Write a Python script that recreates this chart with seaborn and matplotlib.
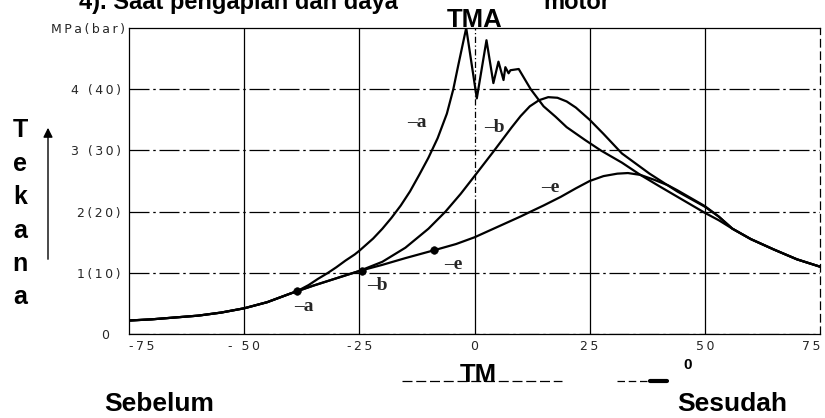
import pandas as pd
import matplotlib
matplotlib.use('Agg')
import matplotlib.pyplot as plt
import matplotlib.transforms as mtrans
import seaborn as sns
from matplotlib.lines import Line2D

# crank angle (deg) and cylinder pressure (MPa)
crank_a = [-75, -70, -65, -60, -55, -50, -45, -40, -38.5, -36, -34, -32, -30, -28, -26, -25,
           -22, -20, -18, -16, -14, -12, -10, -8, -6, -4.6, -3.5, -1.8, 0.5, 2.6, 4.1, 5.2,
           6.3, 6.7, 7.4, 7.8, 9.6, 12.2, 15, 17.6, 20, 24, 27.4, 32, 36, 40, 45, 50, 53,
           56, 60, 65, 70, 75]
press_a = [0.22, 0.24, 0.27, 0.30, 0.35, 0.42, 0.52, 0.66, 0.70, 0.80, 0.90, 0.99, 1.09, 1.20, 1.30, 1.36,
           1.56, 1.72, 1.90, 2.10, 2.33, 2.60, 2.88, 3.20, 3.60, 4.00, 4.40, 5.00, 3.85, 4.80, 4.10, 4.45,
           4.15, 4.36, 4.26, 4.31, 4.33, 4.00, 3.72, 3.55, 3.38, 3.17, 3.00, 2.80, 2.60, 2.42, 2.20, 1.98, 1.86,
           1.72, 1.55, 1.38, 1.22, 1.10]

crank_b = [-75, -70, -65, -60, -55, -50, -45, -40, -35, -30, -25, -20, -15, -10, -6.3, -3,
           0, 4, 8, 10, 12, 14, 16, 18, 20, 22, 25, 28, 32, 38, 44, 50, 53, 56, 60, 65, 70, 75]
press_b = [0.22, 0.24, 0.27, 0.30, 0.35, 0.42, 0.52, 0.66, 0.79, 0.91, 1.03, 1.18, 1.41, 1.72, 2.00, 2.29,
           2.58, 2.97, 3.37, 3.56, 3.72, 3.82, 3.87, 3.86, 3.80, 3.70, 3.50, 3.27, 2.95, 2.62, 2.33, 2.08,
           1.92, 1.72, 1.55, 1.38, 1.22, 1.10]

crank_e = [-75, -70, -65, -60, -55, -50, -45, -40, -35, -30, -25, -20, -15, -8.7, -4, 0, 5, 10,
           12.2, 15, 18.7, 22, 25, 28, 31, 33.3, 36, 39, 42, 44, 47, 50, 53, 56, 60, 65, 70, 75]
press_e = [0.22, 0.24, 0.27, 0.30, 0.35, 0.42, 0.52, 0.66, 0.79, 0.91, 1.03, 1.13, 1.24, 1.37, 1.47,
           1.58, 1.75, 1.92, 2.00, 2.10, 2.24, 2.38, 2.50, 2.58, 2.62, 2.63, 2.60, 2.52, 2.43, 2.35, 2.22,
           2.09, 1.92, 1.72, 1.55, 1.38, 1.22, 1.10]

# ignition points
ign_names = ['a', 'b', 'e']
ign_crank = [-38.5, -24.5, -8.7]
ign_press = [0.70, 1.03, 1.37]

x_ticks = [-75, -50, -25, 0, 25, 50, 75]
x_ticklabels = ['-75', '- 50', '-25', '0', '25', '50', '75']
y_ticks = [0, 1, 2, 3, 4]
y_ticklabels = ['0', '1(10)', '2(20)', '3 (30)', '4 (40)']

TS = '\u2009'  # thin space, spreads the small axis lettering


def spread(s):
    return TS.join(s)


df = pd.concat([
    pd.DataFrame({'crank': crank_a, 'press': press_a, 'curve': 'a'}),
    pd.DataFrame({'crank': crank_b, 'press': press_b, 'curve': 'b'}),
    pd.DataFrame({'crank': crank_e, 'press': press_e, 'curve': 'e'}),
])
ign = pd.DataFrame({'crank': ign_crank, 'press': ign_press, 'curve': ign_names})

sns.set_style('white')
plt.rcParams['font.family'] = ['Liberation Sans', 'DejaVu Sans']

W, H = 825, 418
fig = plt.figure(figsize=(W / 100, H / 100), dpi=100)
ax = fig.add_axes([129 / W, (H - 334) / H, (820 - 129) / W, (334 - 28) / H])

sns.lineplot(data=df, x='crank', y='press', units='curve', estimator=None, sort=False,
             color='black', lw=1.6, ax=ax)
sns.scatterplot(data=ign, x='crank', y='press', color='black', s=30, marker='o',
                edgecolor='black', zorder=5, ax=ax)

ax.set_xlim(-75, 75)
ax.set_ylim(0, 5)
ax.set_xticks(x_ticks)
ax.set_xticklabels([spread(t) for t in x_ticklabels], fontsize=9, family='DejaVu Sans')
ax.get_xticklabels()[-1].set_horizontalalignment('right')
ax.get_xticklabels()[0].set_horizontalalignment('left')
ax.set_yticks(y_ticks)
ax.set_yticklabels([spread(t) for t in y_ticklabels], fontsize=9, family='DejaVu Sans')
ax.tick_params(length=0)
ax.tick_params(axis='x', pad=4)
ax.tick_params(axis='y', pad=6)
# the "0" of the pressure axis sits further left, clear of "-75"
zero_lbl = ax.get_yticklabels()[0]
zero_lbl.set_transform(zero_lbl.get_transform()
                       + mtrans.ScaledTranslation(-0.12, 0, fig.dpi_scale_trans))
ax.set_xlabel('')
ax.set_ylabel('')

# grid: vertical solid, horizontal broken like the scan
for xv in x_ticks[1:-1]:
    if xv == 0:
        ax.axvline(xv, ymin=0, ymax=0.42, color='black', lw=0.9)
        ax.axvline(xv, ymin=0.42, ymax=1, color='black', lw=0.9, ls=(0, (5, 2, 1, 2)))
    else:
        ax.axvline(xv, color='black', lw=0.9)
ax.yaxis.grid(True, color='black', lw=0.9, ls=(0, (16, 3, 2, 3)))
for side in ['left', 'bottom', 'top', 'right']:
    ax.spines[side].set_color('black')
    ax.spines[side].set_linewidth(0.9)
ax.spines['right'].set_linestyle((0, (6, 4)))

# curve labels
serif = dict(family='Liberation Serif', weight='bold', fontsize=14, va='center', ha='center')
for txt, cx, cy in [('\u2013a', -12.5, 3.46), ('\u2013b', 4.3, 3.38), ('\u2013e', 16.5, 2.4),
                    ('\u2013e', -4.5, 1.14), ('\u2013b', -21, 0.8), ('\u2013a', -37, 0.45)]:
    ax.text(cx, cy, txt, **serif)


# figure annotations (pixel positions of the reference)
def fy(py):
    return 1 - py / H


bold = dict(weight='bold', color='black')
fig.text(398 / W, fy(9), '4). Saat pengapian dan daya', ha='right', va='baseline', fontsize=17, **bold)
fig.text(543 / W, fy(9), 'motor', ha='left', va='baseline', fontsize=17, **bold)
fig.text(475 / W, fy(27), 'TMA', ha='center', va='baseline', fontsize=18.5, **bold)
fig.text(125 / W, fy(30), spread('MPa(bar)'), ha='right', va='center', fontsize=9, family='DejaVu Sans')
for i, ch in enumerate('Tekana'):
    fig.text(20 / W, fy(137 + i * 33.5), ch, ha='center', va='baseline', fontsize=18, **bold)
fig.text(478 / W, fy(382), 'TM', ha='center', va='baseline', fontsize=18.5, **bold)
fig.text(688 / W, fy(365), '0', ha='center', va='center', fontsize=11, **bold)
fig.text(159 / W, fy(411), 'Sebelum', ha='center', va='baseline', fontsize=19, **bold)
fig.text(732 / W, fy(411), 'Sesudah', ha='center', va='baseline', fontsize=19, **bold)

fig.add_artist(Line2D([402 / W, 562 / W], [fy(381), fy(381)], color='black', lw=0.9, ls=(0, (8, 3))))
fig.add_artist(Line2D([617 / W, 650 / W], [fy(381), fy(381)], color='black', lw=0.9, ls=(0, (6, 3))))
fig.add_artist(Line2D([650 / W, 667 / W], [fy(381), fy(381)], color='black', lw=3))
ax.annotate('', xy=(48, H - 125), xytext=(48, H - 262), xycoords='figure pixels',
            textcoords='figure pixels',
            arrowprops=dict(arrowstyle='-|>', color='black', lw=1, mutation_scale=14))

fig.savefig('out.png', dpi=100)
